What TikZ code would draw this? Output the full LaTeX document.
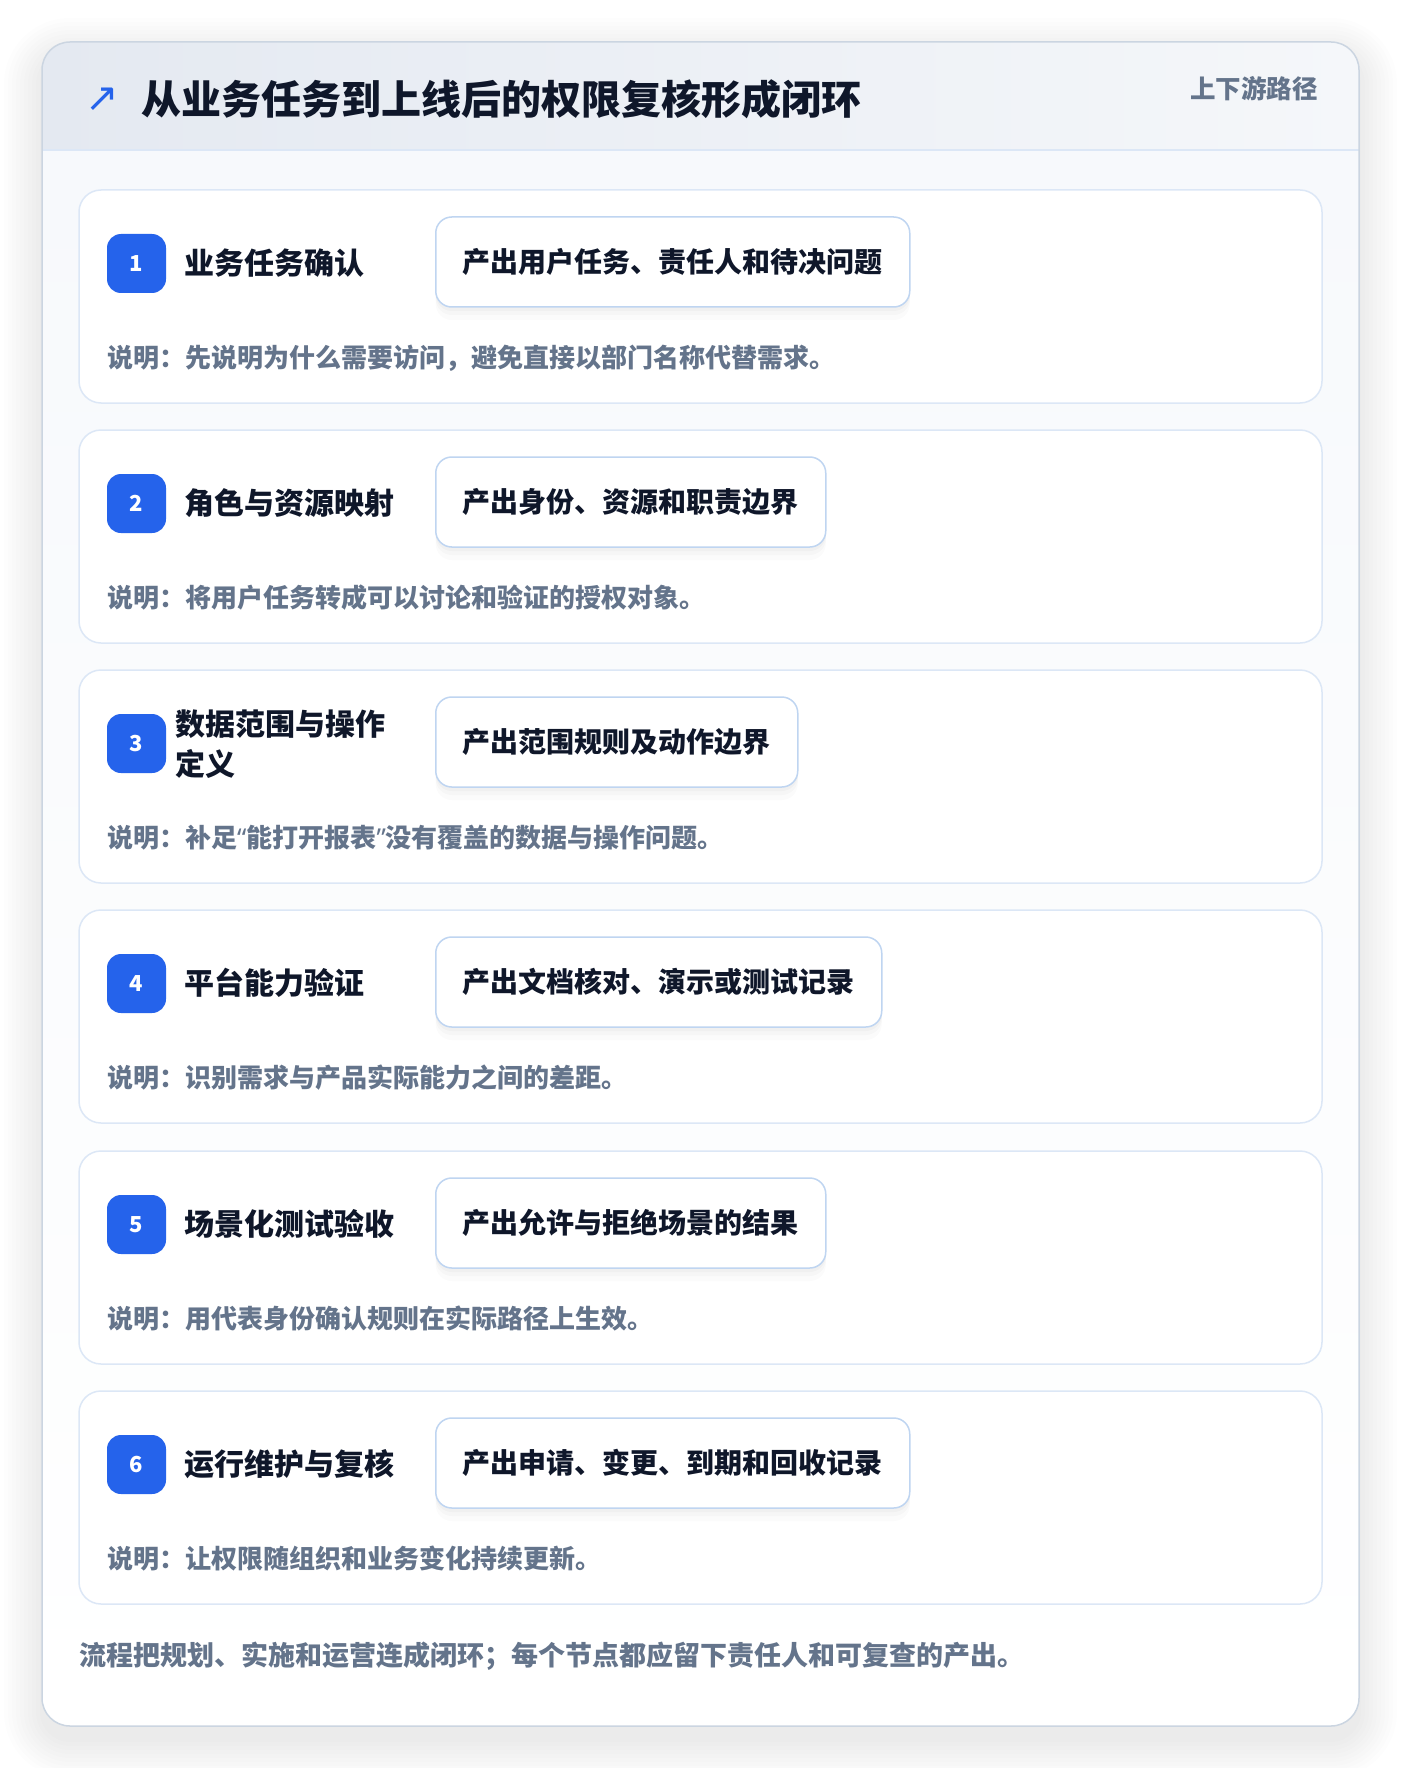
\documentclass[tikz,border=0pt]{standalone}
\usepackage{fontspec}
\setmainfont{Noto Sans CJK SC}
\newfontfamily\symfont{DejaVu Sans}
\newfontfamily\latinfont{Noto Sans}
\usetikzlibrary{shadows}
\definecolor{badgeblue}{HTML}{2563EB}
\definecolor{titleink}{HTML}{0F172A}
\definecolor{noteink}{HTML}{64748B}
\definecolor{cardline}{HTML}{DCE7F6}
\definecolor{boxline}{HTML}{BFD5F1}
\definecolor{frameline}{HTML}{CBD5E1}
\definecolor{headleft}{HTML}{E4E9F1}
\definecolor{headright}{HTML}{F5F7FA}
\definecolor{bodytop}{HTML}{F7F9FC}
\begin{document}
\begin{tikzpicture}[x=1pt,y=-1pt,
    card/.style={draw=cardline, fill=white, rounded corners=22pt, line width=1.5pt},
    badge/.style={fill=badgeblue, rounded corners=14pt, minimum width=59pt, minimum height=59pt,
        inner sep=0pt, text=white, font=\bfseries\fontsize{22}{22}\selectfont},
    steptitle/.style={anchor=west, inner sep=0pt, align=left, text=titleink,
        font=\bfseries\fontsize{30}{40}\selectfont},
    outbox/.style={anchor=west, draw=boxline, fill=white, rounded corners=16pt, line width=1.5pt,
        minimum height=90pt, inner xsep=27pt, text=titleink, font=\bfseries\fontsize{28}{28}\selectfont,
        drop shadow={shadow xshift=0pt, shadow yshift=-4pt, fill=black, opacity=0.025},
        drop shadow={shadow xshift=0pt, shadow yshift=-8pt, fill=black, opacity=0.02},
        drop shadow={shadow xshift=0pt, shadow yshift=-13pt, fill=black, opacity=0.015}},
    note/.style={anchor=west, inner sep=0pt, text=noteink, font=\bfseries\fontsize{26}{26}\selectfont}]
    \useasboundingbox[fill=white] (0,0) rectangle (1400,1768);

    \foreach \s in {2,6,...,38}
        \fill[black, opacity=0.007, rounded corners=28pt+\s pt] (42-\s,42-\s+14) rectangle (1359+\s,1726+\s+14);
    \begin{scope}
        \clip[rounded corners=28pt] (42,42) rectangle (1359,1726);
        \shade[top color=bodytop, bottom color=white] (42,150) rectangle (1359,1726);
        \shade[left color=headleft, right color=headright] (42,42) rectangle (1359,150);
    \end{scope}
    \draw[cardline, line width=1.5pt] (42,150) -- (1359,150);
    \draw[frameline, line width=1.5pt, rounded corners=28pt] (42,42) rectangle (1359,1726);

    \node[text=badgeblue, font=\symfont\fontsize{40}{40}\selectfont] (arrow) at (102,100) {↗};
    \node[anchor=west, inner sep=0pt, text=titleink, font=\bfseries\fontsize{40}{40}\selectfont] (title) at (141,99) {从业务任务到上线后的权限复核形成闭环};
    \node[anchor=east, inner sep=0pt, text=noteink, font=\bfseries\fontsize{25.5}{25.5}\selectfont] (tag) at (1318,89) {上下游路径};

    \draw[card] (79,190) rectangle (1322,403);
    \node[badge] (b1) at (136.5,263.5) {1};
    \node[steptitle] (t1) at (184,263) {业务任务确认};
    \node[outbox] (o1) at (435,262) {产出用户任务、责任人和待决问题};
    \node[note] (n1) at (107,358) {说明：先说明为什么需要访问，避免直接以部门名称代替需求。};

    \draw[card] (79,430) rectangle (1322,643);
    \node[badge] (b2) at (136.5,503.5) {2};
    \node[steptitle] (t2) at (184,503) {角色与资源映射};
    \node[outbox] (o2) at (435,502) {产出身份、资源和职责边界};
    \node[note] (n2) at (107,598) {说明：将用户任务转成可以讨论和验证的授权对象。};

    \draw[card] (79,670) rectangle (1322,883);
    \node[badge] (b3) at (136.5,743.5) {3};
    \node[steptitle] (t3) at (175,744) {数据范围与操作\\定义};
    \node[outbox] (o3) at (435,742) {产出范围规则及动作边界};
    \node[note] (n3) at (107,838) {说明：补足{\latinfont “}能打开报表{\latinfont ”}没有覆盖的数据与操作问题。};

    \draw[card] (79,910) rectangle (1322,1123);
    \node[badge] (b4) at (136.5,983.5) {4};
    \node[steptitle] (t4) at (184,983) {平台能力验证};
    \node[outbox] (o4) at (435,982) {产出文档核对、演示或测试记录};
    \node[note] (n4) at (107,1078) {说明：识别需求与产品实际能力之间的差距。};

    \draw[card] (79,1151) rectangle (1322,1364);
    \node[badge] (b5) at (136.5,1224.5) {5};
    \node[steptitle] (t5) at (184,1224) {场景化测试验收};
    \node[outbox] (o5) at (435,1223) {产出允许与拒绝场景的结果};
    \node[note] (n5) at (107,1319) {说明：用代表身份确认规则在实际路径上生效。};

    \draw[card] (79,1391) rectangle (1322,1604);
    \node[badge] (b6) at (136.5,1464.5) {6};
    \node[steptitle] (t6) at (184,1464) {运行维护与复核};
    \node[outbox] (o6) at (435,1463) {产出申请、变更、到期和回收记录};
    \node[note] (n6) at (107,1559) {说明：让权限随组织和业务变化持续更新。};

    \node[note, font=\bfseries\fontsize{27}{27}\selectfont] (foot) at (79,1656) {流程把规划、实施和运营连成闭环；每个节点都应留下责任人和可复查的产出。};
\end{tikzpicture}
\end{document}
